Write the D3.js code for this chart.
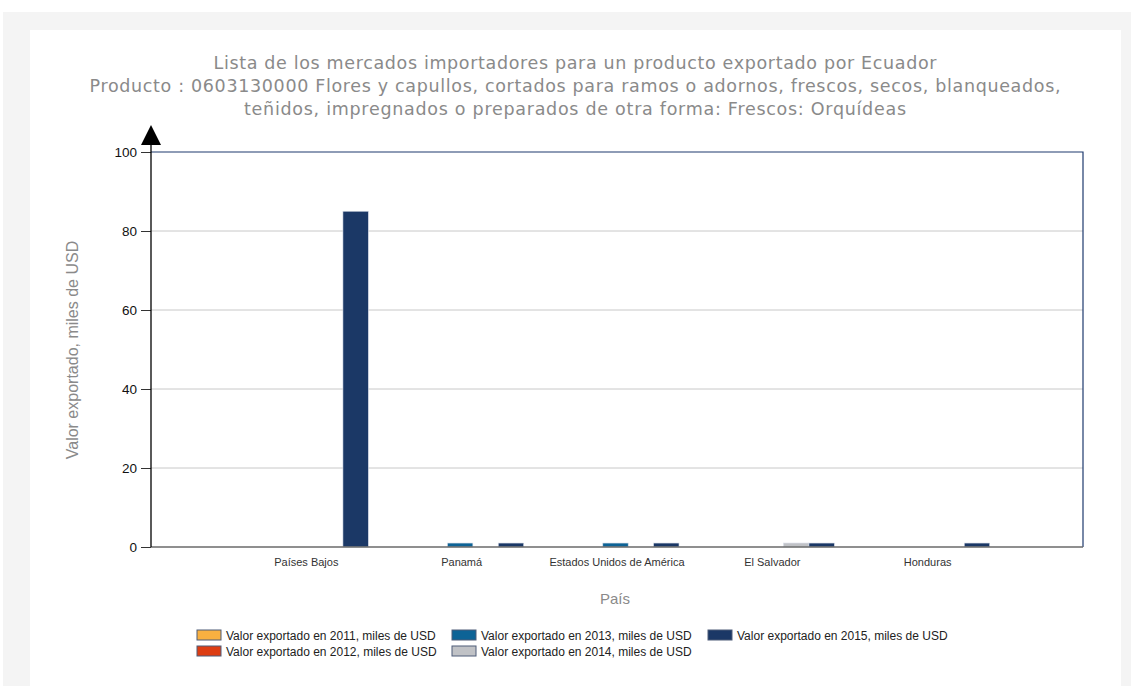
<!DOCTYPE html>
<html>
<head>
    <meta charset="UTF-8" />
    <script src="https://cdn.jsdelivr.net/npm/d3@7"></script>
    <style>
        body { margin: 0; background: #fff; }
        svg { display: block; }
    </style>
</head>
<body>
    <div id="chart"></div>
    <script>
        const titleLines = [
            "Lista de los mercados importadores para un producto exportado por Ecuador",
            "Producto : 0603130000 Flores y capullos, cortados para ramos o adornos, frescos, secos, blanqueados,",
            "teñidos, impregnados o preparados de otra forma: Frescos: Orquídeas"
        ];
        const countries = ["Países Bajos", "Panamá", "Estados Unidos de América", "El Salvador", "Honduras"];
        const years = ["2011", "2012", "2013", "2014", "2015"];
        const seriesNames = years.map(y => `Valor exportado en ${y}, miles de USD`);
        const seriesColors = ["#f9b040", "#dd3d12", "#0d6396", "#c0c2c6", "#1b3866"];
        // values per country, one entry per year 2011..2015
        const values2011 = [0, 0, 0, 0, 0];
        const values2012 = [0, 0, 0, 0, 0];
        const values2013 = [0, 1, 1, 0, 0];
        const values2014 = [0, 0, 0, 1, 0];
        const values2015 = [85, 1, 1, 1, 1];
        const yTicks = [0, 20, 40, 60, 80, 100];

        (() => {
            const allValues = [values2011, values2012, values2013, values2014, values2015];
            const rows = [];
            countries.forEach((c, i) => {
                years.forEach((yr, j) => rows.push({ country: c, year: yr, value: allValues[j][i] }));
            });

            const W = 1131, H = 686;
            const plotL = 151, plotR = 1083, plotT = 152, plotB = 547;

            const svg = d3.select("#chart").append("svg")
                .attr("width", W)
                .attr("height", H);

            // page frame
            svg.append("rect").attr("x", 3).attr("y", 12).attr("width", W - 3).attr("height", H - 12).attr("fill", "#f4f4f4");
            svg.append("rect").attr("x", 30).attr("y", 30).attr("width", 1091).attr("height", H - 30).attr("fill", "#fff");

            // title (Verdana is wider than DejaVu, so stretch each line to the reference width)
            const titleWidths = [723, 971, 662];
            svg.append("g").selectAll("text")
                .data(titleLines)
                .join("text")
                .attr("x", 575)
                .attr("y", (d, i) => 69 + i * 23)
                .attr("text-anchor", "middle")
                .attr("font-family", "DejaVu Sans, Verdana, sans-serif")
                .attr("font-size", 17.5)
                .attr("textLength", (d, i) => titleWidths[i])
                .attr("lengthAdjust", "spacing")
                .attr("fill", "#8a8a8a")
                .text(d => d);

            const slot = (plotR - plotL) / (countries.length + 1);
            const x0 = d3.scalePoint().domain(countries).range([plotL + slot, plotR - slot]);
            const x1 = d3.scaleBand().domain(years).range([-65, 62]);
            const y = d3.scaleLinear().domain([0, 100]).range([plotB, plotT]);

            // gridlines
            svg.append("g").selectAll("line")
                .data(yTicks.filter(t => t > 0 && t < 100))
                .join("line")
                .attr("x1", plotL).attr("x2", plotR)
                .attr("y1", d => y(d)).attr("y2", d => y(d))
                .attr("stroke", "#c8c8c8");

            // plot frame top/right
            svg.append("path")
                .attr("d", `M${plotL},${plotT}H${plotR}V${plotB}`)
                .attr("fill", "none")
                .attr("stroke", "#1f3a6e")
                .attr("stroke-width", 1.2);

            // bars
            svg.append("g").selectAll("rect")
                .data(rows.filter(d => d.value > 0))
                .join("rect")
                .attr("x", d => x0(d.country) + x1(d.year))
                .attr("width", x1.bandwidth())
                .attr("y", d => y(d.value))
                .attr("height", d => y(0) - y(d.value))
                .attr("fill", d => seriesColors[years.indexOf(d.year)])
                .attr("stroke", "#d8dde8")
                .attr("stroke-width", 0.6);

            // x axis line
            svg.append("line")
                .attr("x1", plotL).attr("x2", plotR)
                .attr("y1", plotB).attr("y2", plotB)
                .attr("stroke", "#6a6a6a")
                .attr("stroke-width", 1.3);

            // y axis
            const yAxis = svg.append("g")
                .attr("transform", `translate(${plotL},0)`)
                .call(d3.axisLeft(y).tickValues(yTicks).tickSize(10).tickPadding(4));
            yAxis.select(".domain").remove();
            yAxis.selectAll(".tick line").attr("stroke", "#333");
            yAxis.selectAll("text")
                .attr("font-family", "Liberation Sans, Arial, sans-serif")
                .attr("font-size", 13.5)
                .attr("fill", "#111");
            svg.append("line")
                .attr("x1", plotL).attr("x2", plotL)
                .attr("y1", 140).attr("y2", plotB)
                .attr("stroke", "#000")
                .attr("stroke-width", 1.3);
            svg.append("path")
                .attr("d", `M${plotL - 10},145L${plotL},125L${plotL + 10},145Z`)
                .attr("fill", "#000");

            // x labels
            svg.append("g").selectAll("text")
                .data(countries)
                .join("text")
                .attr("x", d => x0(d))
                .attr("y", 566)
                .attr("text-anchor", "middle")
                .attr("font-family", "Liberation Sans, Arial, sans-serif")
                .attr("font-size", 11)
                .attr("fill", "#333")
                .text(d => d);

            // axis titles
            svg.append("text")
                .attr("x", 615).attr("y", 604)
                .attr("text-anchor", "middle")
                .attr("font-family", "Liberation Sans, Arial, sans-serif")
                .attr("font-size", 15)
                .attr("fill", "#8a8a8a")
                .text("País");
            svg.append("text")
                .attr("transform", `translate(78,350) rotate(-90)`)
                .attr("text-anchor", "middle")
                .attr("font-family", "Liberation Sans, Arial, sans-serif")
                .attr("font-size", 16)
                .attr("fill", "#8a8a8a")
                .text("Valor exportado, miles de USD");

            // legend
            const legendCols = [197, 452, 708];
            const legend = svg.append("g").selectAll("g")
                .data(seriesNames)
                .join("g")
                .attr("transform", (d, i) => `translate(${legendCols[Math.floor(i / 2)]},${630 + (i % 2) * 16})`);
            legend.append("rect")
                .attr("width", 24).attr("height", 10)
                .attr("fill", (d, i) => seriesColors[i])
                .attr("stroke", "#4e5c78")
                .attr("stroke-width", 1);
            legend.append("text")
                .attr("x", 29).attr("y", 9.5)
                .attr("font-family", "Liberation Sans, Arial, sans-serif")
                .attr("font-size", 12)
                .attr("fill", "#222")
                .text(d => d);
        })();
    </script>
</body>
</html>
